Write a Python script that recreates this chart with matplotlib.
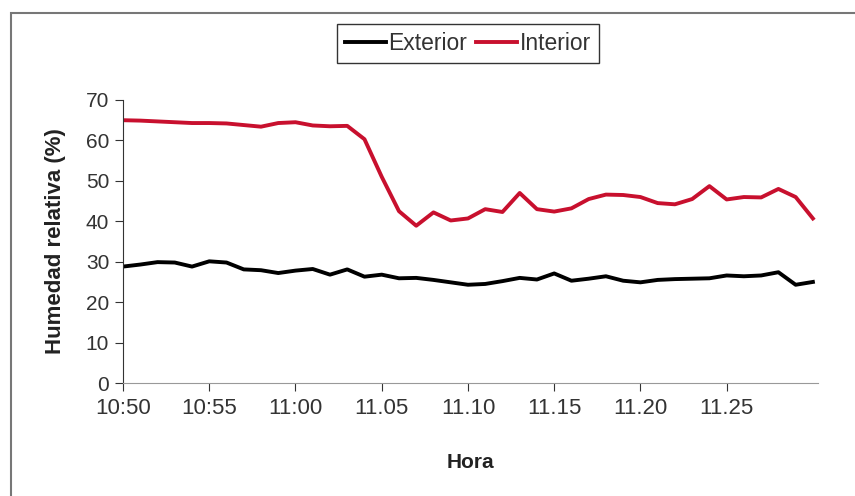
import matplotlib.pyplot as plt
from matplotlib.patches import Rectangle
import numpy as np

plt.rcParams['font.family'] = ['Liberation Sans', 'DejaVu Sans']

# minutes after 10:50
minutes = list(range(0, 41))
interior = [65.0, 64.9, 64.7, 64.5, 64.3, 64.3, 64.2, 63.8, 63.4, 64.3,
            64.5, 63.7, 63.5, 63.6, 60.3, 51.0, 42.5, 38.9, 42.2, 40.2,
            40.7, 43.0, 42.3, 47.0, 43.0, 42.4, 43.2, 45.5, 46.6, 46.5,
            46.0, 44.5, 44.2, 45.5, 48.7, 45.4, 46.0, 45.9, 48.0, 46.0,
            40.7]
exterior = [28.8, 29.3, 29.9, 29.8, 28.8, 30.1, 29.8, 28.1, 27.9, 27.2,
            27.8, 28.2, 26.8, 28.1, 26.3, 26.8, 25.9, 26.0, 25.5, 24.9,
            24.3, 24.5, 25.2, 26.0, 25.6, 27.1, 25.3, 25.8, 26.4, 25.3,
            24.9, 25.5, 25.7, 25.8, 25.9, 26.6, 26.4, 26.6, 27.4, 24.3,
            25.0]
tick_pos = [0, 5, 10, 15, 20, 25, 30, 35]
tick_labels = ["10:50", "10:55", "11:00", "11.05", "11.10", "11.15", "11.20", "11.25"]

fig = plt.figure(figsize=(8.55, 4.96), dpi=100)
ax = fig.add_axes([0.1439, 0.2278, 0.8129, 0.5706])

# outer chart frame
fig.patches.append(Rectangle((11/855, -0.05), 1.1, 1 - 13/496 + 0.05,
                             transform=fig.transFigure, fill=False,
                             edgecolor='#777777', linewidth=1.5))

ax.plot(minutes, exterior, color='black', lw=2.8, label='Exterior',
        solid_joinstyle='round')
ax.plot(minutes, interior, color='#c8102e', lw=2.8, label='Interior',
        solid_joinstyle='round')

ax.set_xlim(0, 40.3)
ax.set_ylim(0, 70)
ax.set_yticks(np.arange(0, 71, 10))
ax.set_xticks(tick_pos)
ax.set_xticklabels(tick_labels)
for s in ['top', 'right']:
    ax.spines[s].set_visible(False)
ax.spines['left'].set_color('#333333')
ax.spines['bottom'].set_color('#999999')
ax.tick_params(axis='both', colors='#333333', length=6)
ax.tick_params(axis='x', labelsize=16, pad=5)
ax.tick_params(axis='y', labelsize=15, pad=4)

ax.set_ylabel("Humedad relativa (%)", fontsize=16, fontweight='bold',
              labelpad=14, color='#222222')
ax.set_xlabel("Hora", fontsize=15, fontweight='bold', labelpad=24,
              color='#222222')

leg = ax.legend(loc='center', bbox_to_anchor=(0.496, 1.198), ncol=2,
                fontsize=16.5, frameon=True, fancybox=False, handlelength=1.8,
                handletextpad=0.1, columnspacing=0.4, borderpad=0.35,
                borderaxespad=0)
leg.get_frame().set_edgecolor('black')
leg.get_frame().set_linewidth(1.0)
for t in leg.get_texts():
    t.set_color('#333333')

plt.savefig("out.png", dpi=100)
